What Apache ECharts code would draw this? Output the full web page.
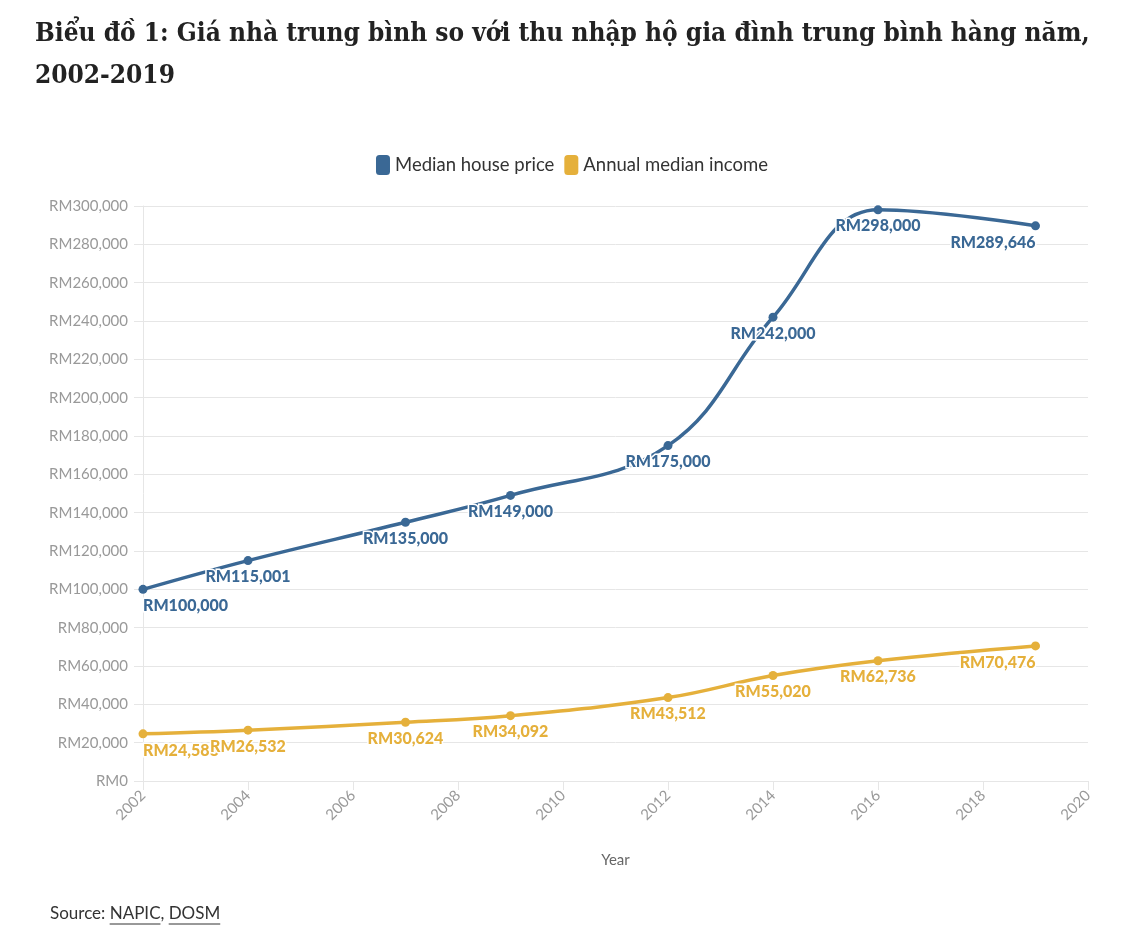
<!DOCTYPE html>
<html>
<head>
<meta charset="utf-8">
<script src="https://cdn.jsdelivr.net/npm/echarts@6/dist/echarts.min.js"></script>
<style>
html,body{margin:0;padding:0;background:#fff;}
#chart{width:1144px;height:936px;}
</style>
</head>
<body>
<div id="chart"></div>
<script>
const years = [2002, 2004, 2007, 2009, 2012, 2014, 2016, 2019];
const housePrice = [100000, 115001, 135000, 149000, 175000, 242000, 298000, 289646];
const annualIncome = [24588, 26532, 30624, 34092, 43512, 55020, 62736, 70476];
const seriesNames = ['Median house price', 'Annual median income'];
const titleText = 'Biểu đồ 1: Giá nhà trung bình so với thu nhập hộ gia đình trung bình hàng năm,\n2002-2019';
const sourcePrefix = 'Source: ';
const sourceLinks = ['NAPIC', 'DOSM'];

const BLUE = '#3a6895';
const GOLD = '#e5b03b';
const SANS = 'Lato, "Open Sans", sans-serif';

function fmt(v) { return 'RM' + v.toLocaleString('en-US'); }

function buildData(values) {
  return years.map((y, i) => {
    const item = { value: [y, values[i]] };
    if (i === 0) item.label = { align: 'left' };
    if (i === years.length - 1) item.label = { align: 'right' };
    return item;
  });
}

function mkSeries(name, values, color) {
  return {
    name: name,
    type: 'line',
    smooth: 0.4,
    data: buildData(values),
    symbol: 'circle',
    symbolSize: 9,
    itemStyle: { color: color },
    lineStyle: { color: color, width: 3.5 },
    label: {
      show: true,
      position: 'bottom',
      distance: 4,
      color: color,
      fontFamily: SANS,
      fontWeight: 900,
      fontSize: 16,
      textBorderColor: '#fff',
      textBorderWidth: 3,
      formatter: p => fmt(p.value[1])
    },
    emphasis: { disabled: true },
    z: 3
  };
}

const cnv = document.createElement('canvas').getContext('2d');
const srcFont = '17px ' + SANS;
function tw(t) { cnv.font = srcFont; return cnv.measureText(t).width; }

const srcX = 50, srcY = 905;
const graphics = [];
let x = srcX;
graphics.push({ type: 'text', left: x, top: srcY, style: { text: sourcePrefix, font: srcFont, fill: '#333' } });
x += tw(sourcePrefix);
sourceLinks.forEach((s, i) => {
  graphics.push({ type: 'text', left: x, top: srcY, style: { text: s, font: srcFont, fill: '#333' } });
  const w = tw(s);
  graphics.push({ type: 'line', shape: { x1: x, y1: srcY + 19, x2: x + w, y2: srcY + 19 }, style: { stroke: '#333', lineWidth: 1 } });
  x += w;
  if (i < sourceLinks.length - 1) {
    graphics.push({ type: 'text', left: x, top: srcY, style: { text: ', ', font: srcFont, fill: '#333' } });
    x += tw(', ');
  }
});

const chart = echarts.init(document.getElementById('chart'), null, { renderer: 'canvas' });
chart.setOption({
  backgroundColor: '#fff',
  animation: false,
  title: {
    text: titleText,
    left: 30,
    top: 8,
    textStyle: {
      fontFamily: '"DejaVu Serif Condensed", "DejaVu Serif", serif',
      fontWeight: 'bold',
      fontSize: 26,
      lineHeight: 42,
      color: '#222'
    }
  },
  legend: {
    top: 150,
    left: 'center',
    icon: 'roundRect',
    itemWidth: 14,
    itemHeight: 20,
    itemGap: 10,
    data: seriesNames,
    textStyle: { fontFamily: SANS, fontSize: 18.5, color: '#333' }
  },
  grid: { left: 143, right: 56, top: 206, bottom: 155, containLabel: false },
  xAxis: {
    type: 'value',
    min: 2002,
    max: 2020,
    interval: 2,
    name: 'Year',
    nameLocation: 'middle',
    nameGap: 72,
    nameTextStyle: { fontFamily: SANS, fontSize: 15, color: '#666' },
    axisLine: { show: true, lineStyle: { color: '#e6e6e6', width: 1 } },
    axisTick: { show: true, length: 9, lineStyle: { color: '#e6e6e6' } },
    splitLine: { show: false },
    axisLabel: {
      rotate: 45,
      margin: 12,
      color: '#999',
      fontFamily: SANS,
      fontSize: 15,
      formatter: v => String(v)
    }
  },
  yAxis: {
    type: 'value',
    min: 0,
    max: 300000,
    interval: 20000,
    axisLine: { show: true, lineStyle: { color: '#e6e6e6', width: 1 } },
    axisTick: { show: true, length: 9, lineStyle: { color: '#e6e6e6' } },
    splitLine: { show: true, lineStyle: { color: '#e6e6e6', width: 1 } },
    axisLabel: {
      margin: 15,
      color: '#999',
      fontFamily: SANS,
      fontSize: 15,
      formatter: v => fmt(v)
    }
  },
  series: [
    mkSeries(seriesNames[0], housePrice, BLUE),
    mkSeries(seriesNames[1], annualIncome, GOLD)
  ],
  graphic: graphics
});
</script>
</body>
</html>
